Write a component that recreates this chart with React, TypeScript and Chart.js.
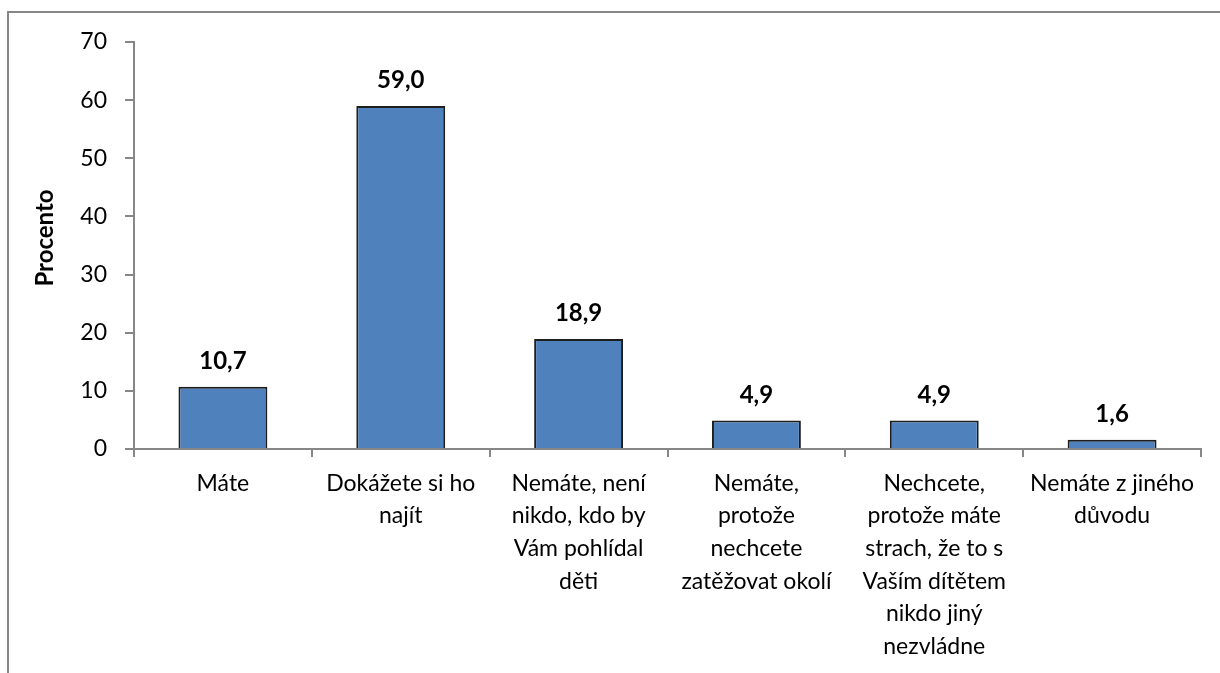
import React, { useEffect, useRef } from 'react';
import { Chart, registerables } from 'chart.js';

Chart.register(...registerables);

const categories: (string | string[])[] = [
  'Máte',
  ['Dokážete si ho', 'najít'],
  ['Nemáte, není', 'nikdo, kdo by', 'Vám pohlídal', 'děti'],
  ['Nemáte,', 'protože', 'nechcete', 'zatěžovat okolí'],
  ['Nechcete,', 'protože máte', 'strach, že to s', 'Vaším dítětem', 'nikdo jiný', 'nezvládne'],
  ['Nemáte z jiného', 'důvodu'],
];
const values = [10.7, 59.0, 18.9, 4.9, 4.9, 1.6];
const valueLabels = ['10,7', '59,0', '18,9', '4,9', '4,9', '1,6'];
const yMin = 0;
const yMax = 70;
const yStep = 10;
const yAxisTitle = 'Procento';

const FONT = 'Lato, "DejaVu Sans", sans-serif';
const GRAY = '#878787';

const framePlugin = {
  id: 'frame',
  beforeDraw(chart: any) {
    const ctx = chart.ctx;
    ctx.save();
    ctx.fillStyle = '#ffffff';
    ctx.fillRect(0, 0, chart.width, chart.height);
    ctx.strokeStyle = GRAY;
    ctx.lineWidth = 2;
    ctx.strokeRect(8, 12, chart.width + 50, chart.height + 50);
    ctx.restore();
  },
};

const labelsPlugin = {
  id: 'valueLabels',
  afterDatasetsDraw(chart: any) {
    const ctx = chart.ctx;
    const meta = chart.getDatasetMeta(0);
    ctx.save();
    ctx.fillStyle = '#000';
    ctx.font = `bold 24px ${FONT}`;
    ctx.textAlign = 'center';
    ctx.textBaseline = 'alphabetic';
    meta.data.forEach((bar: any, i: number) => {
      ctx.fillText(valueLabels[i], bar.x, bar.y - 18);
    });
    ctx.restore();
  },
  afterDraw(chart: any) {
    const ctx = chart.ctx;
    ctx.save();
    ctx.fillStyle = '#000';
    ctx.font = `bold 24px ${FONT}`;
    ctx.textAlign = 'center';
    ctx.textBaseline = 'middle';
    ctx.translate(45, 238);
    ctx.rotate(-Math.PI / 2);
    ctx.fillText(yAxisTitle, 0, 0);
    ctx.restore();
  },
};

export default function App() {
  const ref = useRef<HTMLCanvasElement | null>(null);
  useEffect(() => {
    if (!ref.current) return;
    const chart = new Chart(ref.current, {
      type: 'bar',
      data: {
        labels: categories,
        datasets: [
          {
            data: values,
            backgroundColor: '#4F81BD',
            borderColor: '#1e1e1e',
            borderWidth: 2,
            barPercentage: 0.5,
            categoryPercentage: 1,
          },
        ],
      },
      options: {
        animation: false,
        responsive: false,
        devicePixelRatio: 1,
        layout: { padding: { left: 0, right: 19, top: 42, bottom: 0 } },
        plugins: {
          legend: { display: false },
          tooltip: { enabled: false },
          title: { display: false },
        },
        scales: {
          x: {
            z: 1,
            grid: {
              offset: true,
              drawOnChartArea: false,
              drawTicks: true,
              tickLength: 8,
              color: GRAY,
              lineWidth: 2,
            },
            border: { display: true, color: GRAY, width: 2 },
            ticks: {
              autoSkip: false,
              maxRotation: 0,
              minRotation: 0,
              padding: 10,
              color: '#000',
              font: { family: FONT, size: 23, lineHeight: 1.42 },
            },
            afterFit(scale: any) {
              scale.height = 224;
            },
          },
          y: {
            z: 1,
            min: yMin,
            max: yMax,
            grid: {
              drawOnChartArea: false,
              drawTicks: true,
              tickLength: 9,
              color: GRAY,
              lineWidth: 2,
            },
            border: { display: true, color: GRAY, width: 2 },
            ticks: {
              stepSize: yStep,
              padding: 18,
              color: '#000',
              font: { family: FONT, size: 23 },
              callback: (v: any) => String(v),
            },
            afterFit(scale: any) {
              scale.width = 134;
            },
          },
        },
      },
      plugins: [framePlugin, labelsPlugin],
    });
    return () => chart.destroy();
  }, []);
  return (
    <div style={{ position: 'absolute', left: 0, top: 0, width: 1220, height: 673 }}>
      <canvas ref={ref} width={1220} height={673} style={{ display: 'block', width: 1220, height: 673 }} />
    </div>
  );
}
